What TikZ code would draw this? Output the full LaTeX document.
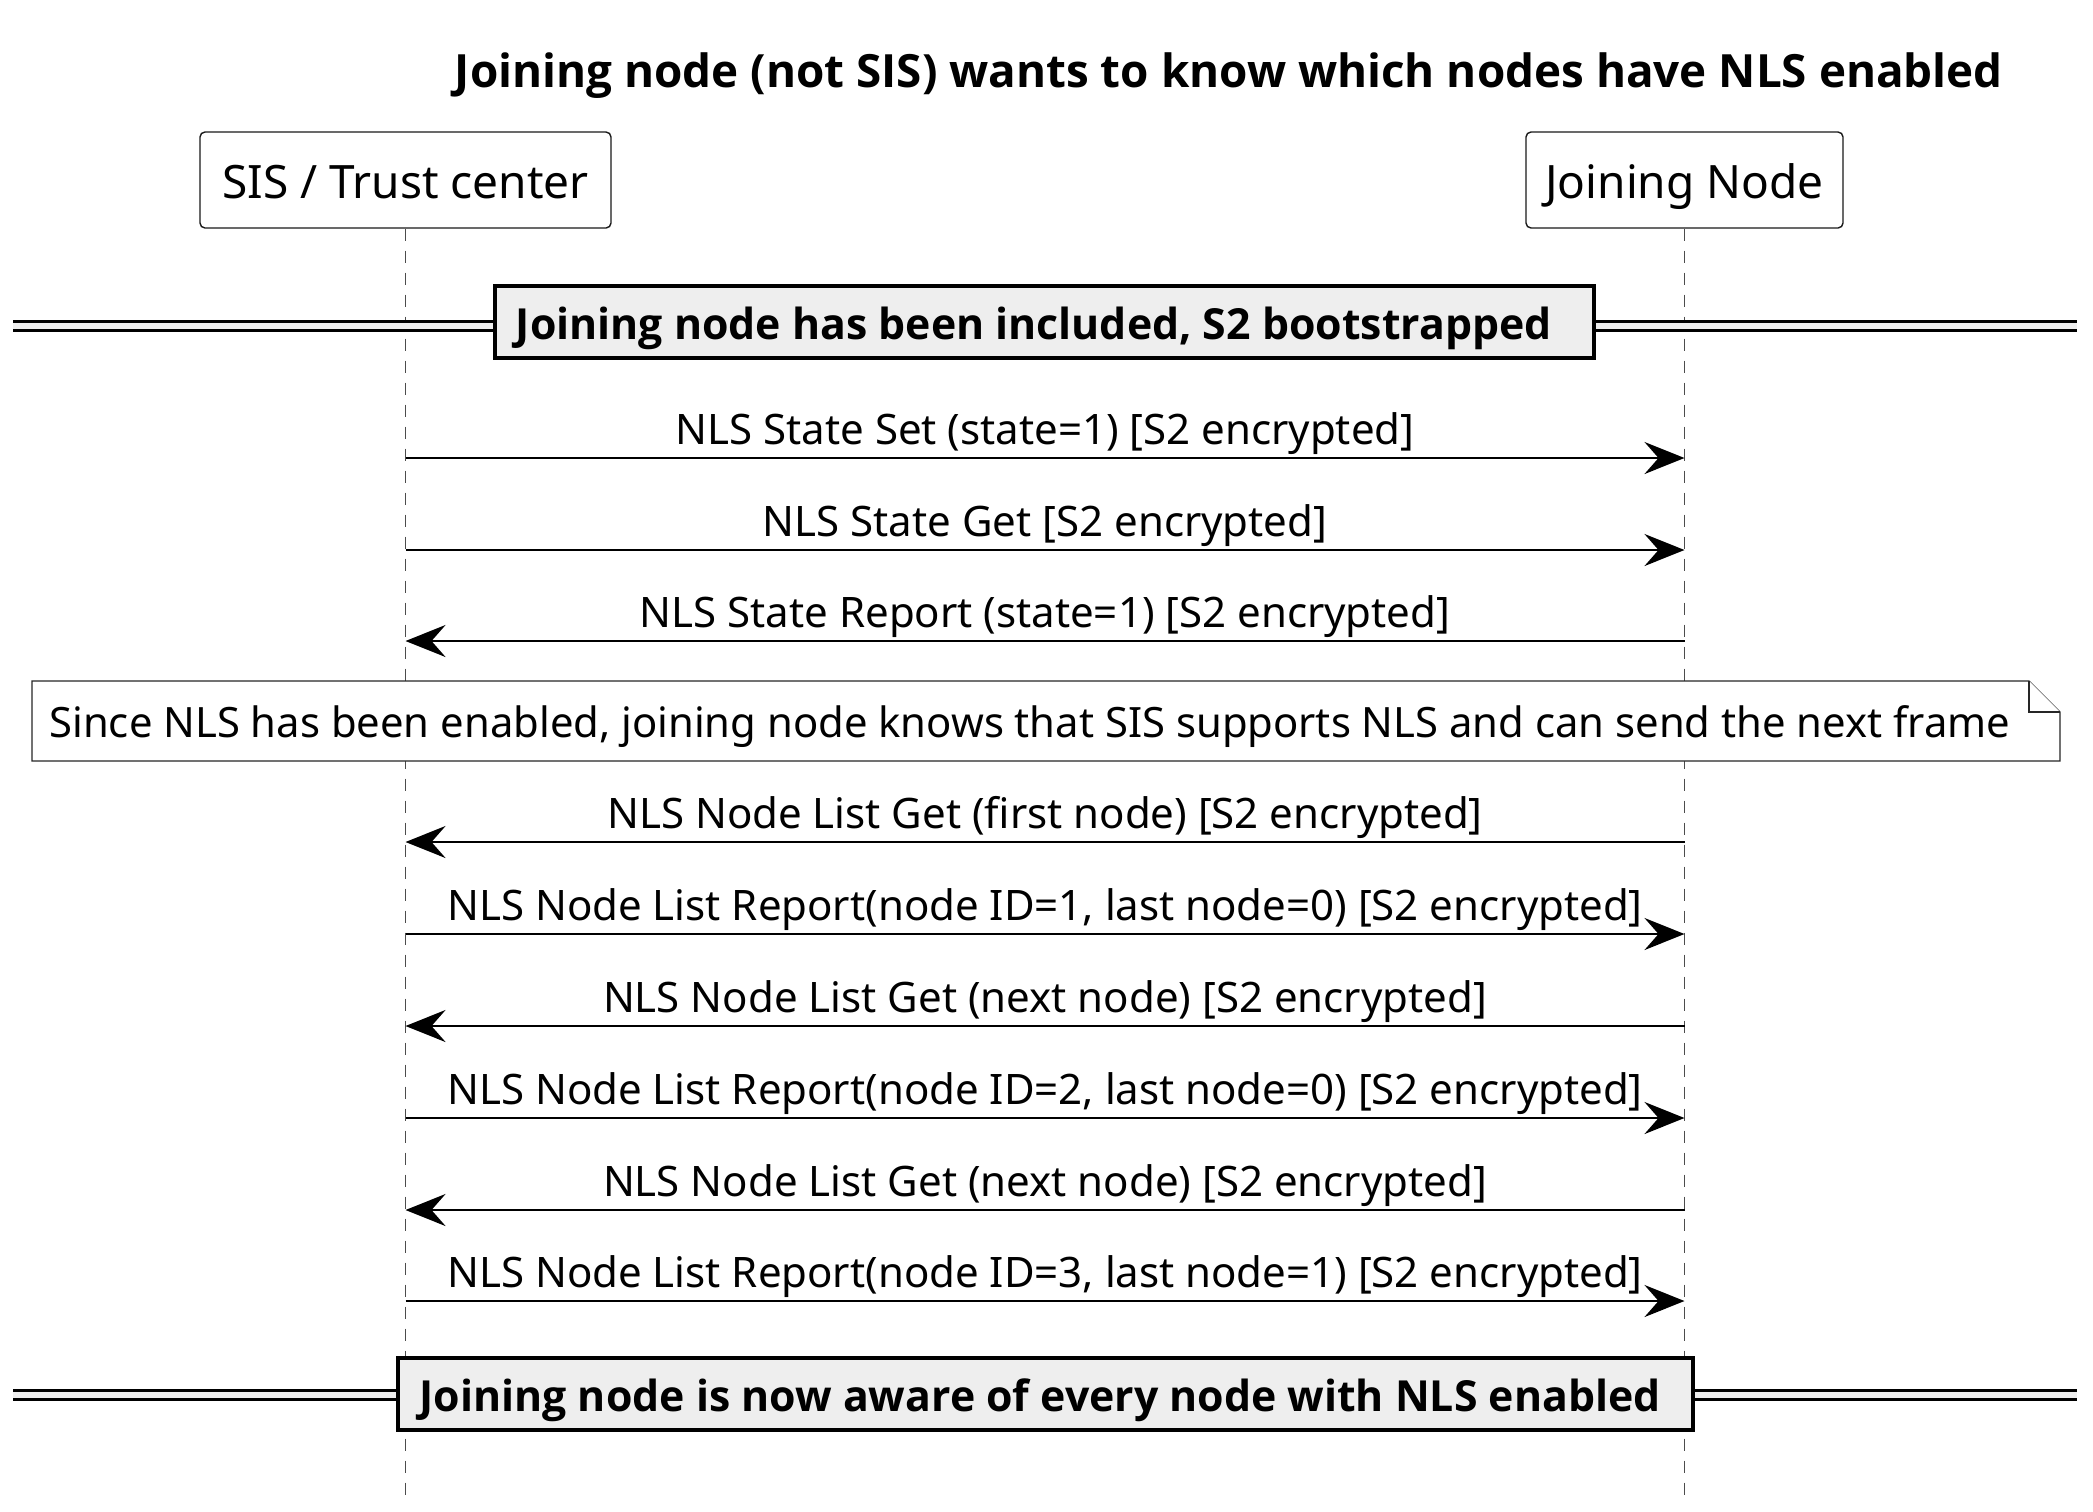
\documentclass[tikz,border=0pt]{standalone}
\usepackage{fontspec}
\setmainfont{Noto Sans}
\newfontfamily\headfont{Open Sans}
\usetikzlibrary{arrows.meta}
\definecolor{divfill}{HTML}{EEEEEE}
\begin{document}
\begin{tikzpicture}[x=0.5pt,y=-0.5pt,
  lifeline/.style={draw=black!70, line width=0.5pt, dash pattern=on 6pt off 5pt},
  actor/.style={draw=black!90, line width=0.7pt, rounded corners=2.5pt, fill=white,
    minimum height=48pt, inner sep=0pt, text height=20pt, text depth=2pt,
    font=\fontsize{23}{26}\selectfont},
  msg/.style={line width=1.25pt, -{Stealth[length=20pt,width=16pt,inset=7pt]}},
  msglabel/.style={anchor=base, yshift=7pt, font=\fontsize{21}{24}\selectfont, inner sep=0pt},
  divbox/.style={draw=black, line width=2.4pt, fill=divfill, inner sep=0pt,
    minimum height=36pt, text height=19pt, text depth=2pt, font=\headfont\bfseries\fontsize{21.4}{24}\selectfont},
  divline/.style={line width=1.5pt},
  notebox/.style={draw=black!85, line width=0.6pt, fill=white},
  notetext/.style={anchor=base west, inner sep=0pt, font=\fontsize{20.9}{24}\selectfont},
  titletext/.style={anchor=base, inner sep=0pt, font=\headfont\bfseries\fontsize{22.9}{26}\selectfont}
]
\useasboundingbox (0,0) rectangle (2093,1511);

% title
\node[titletext] (title) at (1229,87) {Joining node (not SIS) wants to know which nodes have NLS enabled};

% participants
\node[actor, minimum width=205.5pt] (sis) at (405.5,180) {SIS / Trust center};
\node[actor, minimum width=158.5pt] (jn) at (1684.5,180) {Joining Node};

% lifelines
\coordinate (sisEnd) at (405.5,1495);
\coordinate (jnEnd) at (1684.5,1495);
\draw[lifeline] (sis.south) -- (sisEnd);
\draw[lifeline] (jn.south) -- (jnEnd);

% divider 1
\fill[divfill] (13,321) rectangle (2077,330);
\draw[divline] (13,321) -- (2077,321) (13,330) -- (2077,330);
\node[divbox, minimum width=549.5pt] (d1) at (1044.5,322) {Joining node has been included, S2 bootstrapped\kern10.7pt};

% messages
\foreach \n/\y in {1/458,2/550,3/641,4/842,5/934,6/1026,7/1118,8/1210,9/1301}{
  \coordinate (s\n) at (405.5,\y);
  \coordinate (j\n) at (1684.5,\y);
}
\draw[msg] (s1) -- (j1) node[msglabel, midway] {NLS State Set (state=1) [S2 encrypted]};
\draw[msg] (s2) -- (j2) node[msglabel, midway] {NLS State Get [S2 encrypted]};
\draw[msg] (j3) -- (s3) node[msglabel, midway] {NLS State Report (state=1) [S2 encrypted]};

% note
\draw[notebox] (32,681) -- (2029,681) -- (2060,712) -- (2060,761) -- (32,761) -- cycle;
\draw[notebox] (2029,681) -- (2029,712) -- (2060,712);
\node[notetext] (note) at (49,737) {Since NLS has been enabled, joining node knows that SIS supports NLS and can send the next frame};

\draw[msg] (j4) -- (s4) node[msglabel, midway] {NLS Node List Get (first node) [S2 encrypted]};
\draw[msg] (s5) -- (j5) node[msglabel, midway] {NLS Node List Report(node ID=1, last node=0) [S2 encrypted]};
\draw[msg] (j6) -- (s6) node[msglabel, midway] {NLS Node List Get (next node) [S2 encrypted]};
\draw[msg] (s7) -- (j7) node[msglabel, midway] {NLS Node List Report(node ID=2, last node=0) [S2 encrypted]};
\draw[msg] (j8) -- (s8) node[msglabel, midway] {NLS Node List Get (next node) [S2 encrypted]};
\draw[msg] (s9) -- (j9) node[msglabel, midway] {NLS Node List Report(node ID=3, last node=1) [S2 encrypted]};

% divider 2
\fill[divfill] (13,1390) rectangle (2077,1399);
\draw[divline] (13,1390) -- (2077,1390) (13,1399) -- (2077,1399);
\node[divbox, minimum width=647.5pt] (d2) at (1045.5,1394) {Joining node is now aware of every node with NLS enabled\kern5.3pt};
\end{tikzpicture}
\end{document}
